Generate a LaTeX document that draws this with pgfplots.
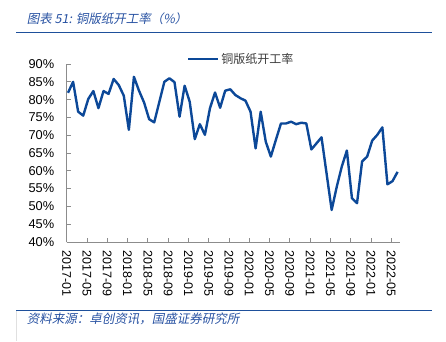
\documentclass[border=0pt]{standalone}
\usepackage{fontspec}
\usepackage{pgfplots}
\usepackage{pgfplotstable}
\pgfplotsset{compat=1.18}
\setmainfont{Liberation Sans}
\newfontfamily\cjk{Noto Sans CJK SC}
\newfontfamily\cjkit[FakeSlant=0.2]{Noto Sans CJK SC}
\definecolor{linec}{RGB}{12,72,152}
\definecolor{titlec}{RGB}{40,82,162}
\definecolor{rulec}{RGB}{30,80,155}
\definecolor{axisc}{RGB}{140,140,140}
\definecolor{legtext}{RGB}{60,60,60}
\pgfplotstableread{
i v
0 81.9
1 85.0
2 76.6
3 75.5
4 80.2
5 82.4
6 77.6
7 82.4
8 81.6
9 85.8
10 84.1
11 81.1
12 71.5
13 86.4
14 82.5
15 79.2
16 74.5
17 73.6
18 79.3
19 85.0
20 86.0
21 84.9
22 75.2
23 83.9
24 79.4
25 68.9
26 73.1
27 70.1
28 77.6
29 82.0
30 77.7
31 82.5
32 82.9
33 81.3
34 80.4
35 79.7
36 76.6
37 66.3
38 76.6
39 68.2
40 64.0
41 68.7
42 73.3
43 73.3
44 73.8
45 73.1
46 73.5
47 73.3
48 66.0
49 67.7
50 69.4
51 59.2
52 49.0
53 55.5
54 61.2
55 65.7
56 52.3
57 50.9
58 62.6
59 64.0
60 68.5
61 70.1
62 72.2
63 56.2
64 57.1
65 59.7
}\datatable
\begin{document}
\begin{tikzpicture}
\path[use as bounding box] (0pt,0pt) rectangle (446pt,341pt);
\node[anchor=west, inner sep=0pt, text=titlec, font=\cjkit\fontsize{12.5}{14}\selectfont] at (26.7pt,322pt) {图表 51: 铜版纸开工率（\%）};
\draw[rulec, line width=1.3pt] (16pt,308.7pt) -- (432pt,308.7pt);
\draw[rulec, line width=1.3pt] (16pt,30.3pt) -- (432pt,30.3pt);
\draw[black!12, line width=0.6pt] (16pt,30.3pt) -- (16pt,0pt);
\node[anchor=west, inner sep=0pt, text=titlec, font=\cjkit\fontsize{12.5}{14}\selectfont] at (26.7pt,21.7pt) {资料来源：卓创资讯，国盛证券研究所};
\begin{axis}[
  at={(66.7pt,99pt)}, anchor=south west,
  scale only axis, width=333.3pt, height=178pt,
  xmin=0, xmax=65.74, ymin=40, ymax=90,
  axis lines=left, axis line style={axisc, line width=0.8pt, -},
  tick align=inside, major tick length=4pt,
  tick style={axisc, line width=0.8pt},
  xtick={0,4,...,64},
  xticklabels={2017-01,2017-05,2017-09,2018-01,2018-05,2018-09,2019-01,2019-05,2019-09,2020-01,2020-05,2020-09,2021-01,2021-05,2021-09,2022-01,2022-05},
  ytick={40,45,...,90},
  yticklabel={\pgfmathprintnumber{\tick}\%},
  /pgf/number format/assume math mode=true,
  x tick label style={rotate=-90, anchor=west, font=\fontsize{12.5}{14}\selectfont},
  y tick label style={font=\fontsize{12.8}{14}\selectfont},
  xticklabel shift=5pt, yticklabel shift=9pt,
  legend style={at={(0.36,1.028)}, anchor=west, draw=none, fill=none, inner sep=0pt,
    font=\cjk\fontsize{12}{14}\selectfont, text=legtext},
  legend image code/.code={\draw[#1, line width=2.4pt] (0pt,0pt) -- (30pt,0pt);},
  clip=false,
]
\addplot[linec, line width=2.4pt, line join=round, no marks] table[x expr=\thisrow{i}+0.26, y=v] {\datatable};
\addlegendentry{铜版纸开工率}
\end{axis}
\end{tikzpicture}
\end{document}
